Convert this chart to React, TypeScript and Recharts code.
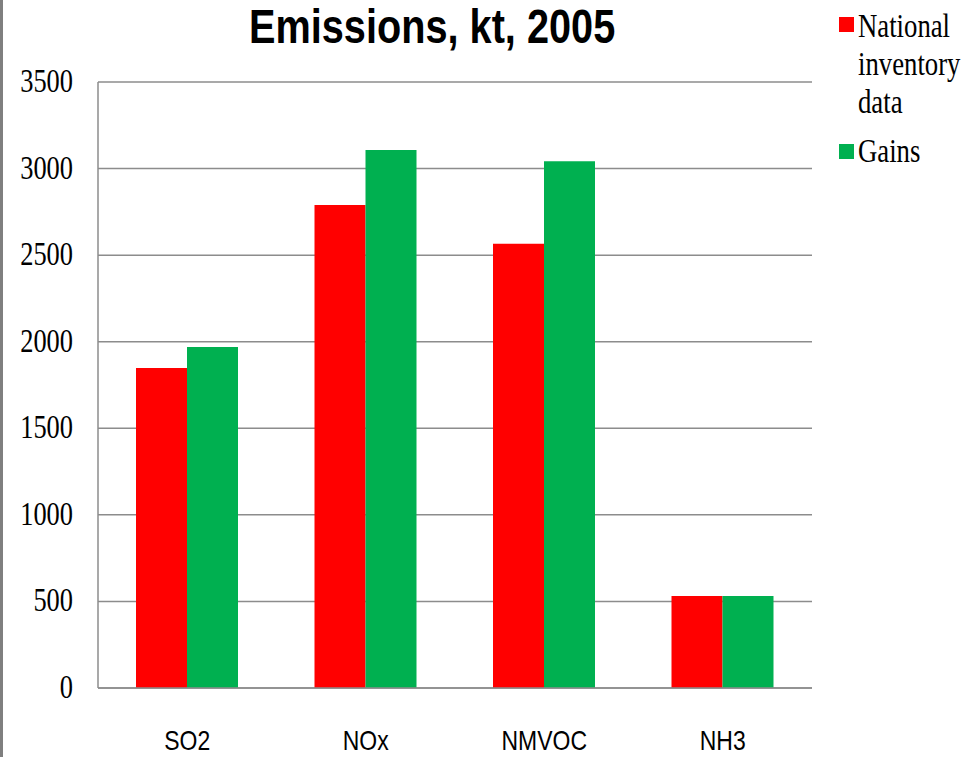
import React from "react";
import { BarChart, Bar, XAxis, YAxis, CartesianGrid, Legend } from "recharts";

const categories = ["SO2", "NOx", "NMVOC", "NH3"];
const nationalInventory = [1848, 2790, 2566, 532];
const gains = [1970, 3107, 3042, 532];
const yTicks = [0, 500, 1000, 1500, 2000, 2500, 3000, 3500];
const seriesNames = ["National inventory data", "Gains"];

const data = categories.map((c, i) => ({
  name: c,
  national: nationalInventory[i],
  gains: gains[i],
}));

const GRID = "#8c8c8c";

const YTick = (props: any) => {
  const { x, y, payload } = props;
  return (
    <text
      transform={`translate(${x - 25},${y + 10}) scale(0.8,1)`}
      textAnchor="end"
      fontFamily="'Liberation Serif', serif"
      fontSize={33}
      fill="#000"
    >
      {payload.value}
    </text>
  );
};

const XTick = (props: any) => {
  const { x, y, payload } = props;
  return (
    <text
      transform={`translate(${x},${y + 62}) scale(0.82,1)`}
      textAnchor="middle"
      fontFamily="'Liberation Sans', sans-serif"
      fontSize={28}
      fill="#000"
    >
      {payload.value}
    </text>
  );
};

const LegendContent = () => {
  const txt: React.CSSProperties = {
    position: "absolute",
    left: 23,
    fontFamily: "'Liberation Serif', serif",
    fontSize: 33,
    lineHeight: "38px",
    color: "#000",
    transform: "scaleX(0.81)",
    transformOrigin: "left top",
    whiteSpace: "nowrap",
  };
  return (
    <div style={{ position: "relative", width: 141, height: 200 }}>
      <div style={{ position: "absolute", left: 4, top: 17, width: 15, height: 15, background: "#FF0000" }} />
      <div style={{ ...txt, top: 7 }}>
        National
        <br />
        inventory
        <br />
        data
      </div>
      <div style={{ position: "absolute", left: 4, top: 144, width: 15, height: 15, background: "#00B050" }} />
      <div style={{ ...txt, top: 132 }}>Gains</div>
    </div>
  );
};

export default function App() {
  return (
    <div
      style={{
        position: "fixed",
        left: 0,
        top: 0,
        width: 976,
        height: 757,
        background: "#fff",
        overflow: "hidden",
      }}
    >
      <div style={{ position: "absolute", left: 0, top: 0, width: 3, height: 757, background: "#7f7f7f" }} />
      <div
        style={{
          position: "absolute",
          left: 249,
          top: 0,
          fontFamily: "'Liberation Sans', sans-serif",
          fontWeight: "bold",
          fontSize: 49,
          lineHeight: "52px",
          color: "#000",
          transform: "scaleX(0.81)",
          transformOrigin: "left top",
          whiteSpace: "nowrap",
        }}
      >
        Emissions, kt, 2005
      </div>
      <BarChart
        width={976}
        height={757}
        data={data}
        margin={{ top: 82, right: 23, left: 0, bottom: 0 }}
        barCategoryGap={38}
        barGap={0}
        style={{ position: "absolute", left: 0, top: 0 }}
      >
        <CartesianGrid vertical={false} stroke={GRID} strokeWidth={1.5} />
        <XAxis
          dataKey="name"
          height={69}
          tickSize={0}
          tickMargin={0}
          tickLine={false}
          axisLine={{ stroke: GRID, strokeWidth: 1.5 }}
          tick={<XTick />}
          interval={0}
        />
        <YAxis
          width={98}
          domain={[0, 3500]}
          ticks={yTicks}
          tickSize={0}
          tickMargin={0}
          tickLine={false}
          axisLine={{ stroke: GRID, strokeWidth: 1.5 }}
          tick={<YTick />}
          interval={0}
        />
        <Legend
          layout="vertical"
          align="right"
          verticalAlign="top"
          width={141}
          height={200}
          wrapperStyle={{ left: 835, top: 0, width: 141, height: 200 }}
          content={<LegendContent />}
        />
        <Bar dataKey="national" name={seriesNames[0]} fill="#FF0000" isAnimationActive={false} />
        <Bar dataKey="gains" name={seriesNames[1]} fill="#00B050" isAnimationActive={false} />
      </BarChart>
    </div>
  );
}
